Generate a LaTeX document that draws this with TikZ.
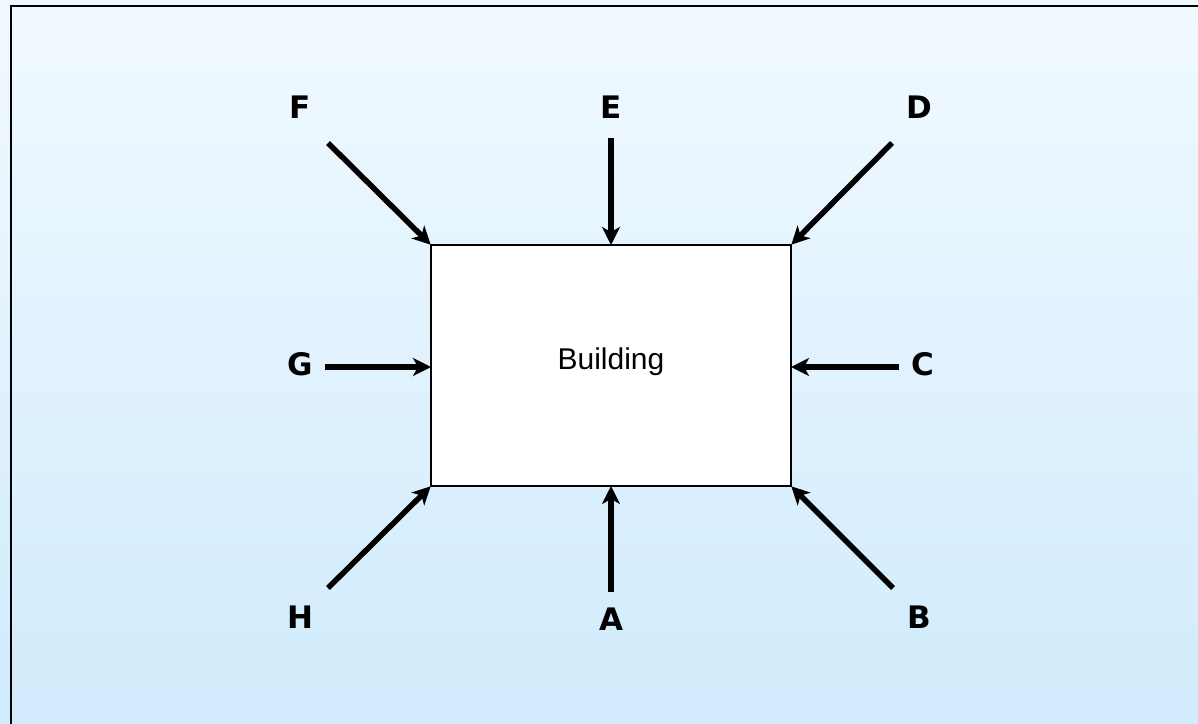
\documentclass[tikz,border=0pt]{standalone}
\usepackage{fontspec}
\setmainfont{DejaVu Sans}
\newfontfamily\bldfont{Liberation Sans}
\usetikzlibrary{arrows.meta}
\definecolor{bgtop}{HTML}{F1F9FF}
\definecolor{bgbot}{HTML}{D0EBFC}
\tikzset{
  lbl/.style={font=\fontsize{31}{34}\selectfont\bfseries, inner sep=0pt, anchor=center},
  arr/.style={line width=5.5pt, -{Stealth[length=18pt,width=18pt,inset=5pt]}, shorten >=-1pt},
}
\begin{document}
\begin{tikzpicture}[x=1pt,y=-1pt]
\useasboundingbox (0,0) rectangle (1198,723);
\shade[top color=bgtop, bottom color=bgbot] (0,0) rectangle (1198,723);
\draw[line width=2.5pt] (11,730) -- (11,6) -- (1205,6);
\node[draw=black, line width=2pt, fill=white, minimum width=360pt, minimum height=241pt, inner sep=0pt] (bld) at (611,365.5) {};
\node[font=\bldfont\fontsize{30}{32}\selectfont] (bt) at (611,362) {Building};
\node[lbl] (F) at (300,107) {F};
\node[lbl] (E) at (611,107) {E};
\node[lbl] (D) at (919,107) {D};
\node[lbl] (G) at (300,364) {G};
\node[lbl] (C) at (923,364) {C};
\node[lbl] (H) at (300,617) {H};
\node[lbl] (A) at (611,619) {A};
\node[lbl] (B) at (919,617) {B};
\coordinate (f0) at (328,143);
\coordinate (e0) at (611,138);
\coordinate (d0) at (892,143);
\coordinate (g0) at (325,367);
\coordinate (c0) at (899,367);
\coordinate (h0) at (328,588);
\coordinate (a0) at (611,592);
\coordinate (b0) at (893,588);
\draw[arr] (f0) -- (bld.north west);
\draw[arr] (e0) -- (bld.north);
\draw[arr] (d0) -- (bld.north east);
\draw[arr] (g0) -- (bld.west |- g0);
\draw[arr] (c0) -- (bld.east |- c0);
\draw[arr] (h0) -- (bld.south west);
\draw[arr] (a0) -- (bld.south);
\draw[arr] (b0) -- (bld.south east);
\end{tikzpicture}
\end{document}
